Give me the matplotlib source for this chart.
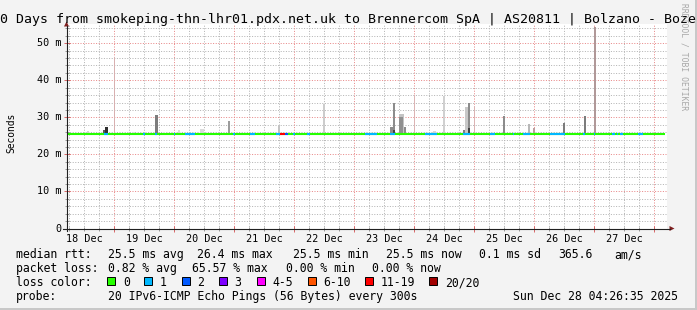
import matplotlib
matplotlib.use("Agg")
import matplotlib.pyplot as plt
from matplotlib.patches import Rectangle, Polygon
from matplotlib.lines import Line2D
from matplotlib.transforms import blended_transform_factory

# ---------------- data ----------------
title_text = "0 Days from smokeping-thn-lhr01.pdx.net.uk to Brennercom SpA | AS20811 | Bolzano - Boze"
watermark = "RRDTOOL / TOBI OETIKER"
y_label = "Seconds"

# time axis in hours since 18 Dec 00:00
view_start_h = 4.88
view_hours = 240
data_end_h = 244.3
day_labels = ["18 Dec", "19 Dec", "20 Dec", "21 Dec", "22 Dec",
              "23 Dec", "24 Dec", "25 Dec", "26 Dec", "27 Dec"]
day_label_h = [12, 36, 60, 84, 108, 132, 156, 180, 204, 228]
y_tick_ms = [0, 10, 20, 30, 40, 50]
y_tick_labels = ["0", "10 m", "20 m", "30 m", "40 m", "50 m"]
y_max_ms = 55.2

median_ms = 25.5

# smoke columns (spread of the 20 pings)
smoke_start_h = [13.1, 19.5, 20.3, 23.7, 31.5, 40.3, 43.5, 49.5, 58.3, 69.5,
                 81.1, 89.5, 107.5, 134.3, 135.5, 135.5, 137.9, 137.9, 139.9, 143.7,
                 151.5, 155.5, 163.5, 164.3, 165.5, 165.5, 167.7, 179.5, 189.5, 191.5,
                 203.5, 211.9, 215.7]
smoke_width_h = [0.8, 0.8, 1.2, 0.6, 0.8, 1.2, 0.8, 0.8, 1.6, 0.8,
                 0.8, 0.8, 0.6, 1.2, 0.8, 0.8, 2.0, 1.4, 0.8, 0.6,
                 1.2, 0.6, 0.8, 1.2, 0.8, 0.8, 0.6, 0.8, 0.8, 0.8,
                 0.8, 0.8, 0.8]
smoke_lo_ms = [25.5] * 33
smoke_hi_ms = [26.3, 26.6, 27.5, 46.2, 26.0, 30.6, 26.0, 26.5, 26.8, 28.9,
               26.0, 28.0, 33.5, 27.5, 33.8, 26.5, 31.0, 30.2, 27.5, 36.0,
               26.3, 35.7, 26.5, 32.7, 34.0, 27.0, 33.0, 30.5, 28.1, 27.0,
               28.6, 30.5, 54.3]
smoke_color = ["#d4d4d4", "#585858", "#303030", "#d8b0b0", "#e0e0e0", "#7c7c7c", "#e4e4e4",
               "#dcdcdc", "#dadada", "#9c9c9c", "#e4e4e4", "#c4c4c4", "#cccccc", "#8c8c8c",
               "#8c8c8c", "#404040", "#c4c4c4", "#909090", "#8c8c8c", "#dcb4b4", "#d8d8d8",
               "#d0d0d0", "#808080", "#c8c8c8", "#8c8c8c", "#404040", "#dcb4b4", "#8c8c8c",
               "#b8b8b8", "#bca0a0", "#7c7c7c", "#7c7c7c", "#b09898"]

# loss-coloured pieces of the median line
loss_start_h = [19.9, 35.5, 40.3, 47.9, 52.3, 71.5, 78.3, 88.7, 90.3, 92.3,
                95.5, 101.1, 124.3, 134.3, 148.3, 163.5, 174.3, 183.5, 187.5, 198.3,
                211.5, 215.9, 223.1, 225.1, 226.3, 233.5]
loss_end_h = [21.5, 36.3, 41.1, 48.3, 56.3, 72.3, 80.3, 90.3, 92.3, 93.5,
              96.3, 102.3, 129.1, 136.3, 153.1, 166.3, 176.3, 183.9, 190.3, 204.3,
              212.3, 216.3, 224.3, 225.5, 227.5, 235.5]
loss_class = [1, 1, 1, 1, 1, 1, 1, 1, 6, 2,
              1, 1, 1, 1, 1, 1, 1, 1, 1, 1,
              1, 1, 1, 1, 1, 1]

loss_labels = ["0", "1", "2", "3", "4-5", "6-10", "11-19", "20/20"]
loss_colors = ["#26ff00", "#00b8ff", "#0059ff", "#7e00ff",
               "#ff00ff", "#ff5500", "#ff0000", "#a10000"]

rtt_avg, rtt_max, rtt_min, rtt_now, rtt_sd, rtt_am = 25.5, 26.4, 25.5, 25.5, 0.1, 365.6
loss_avg, loss_max, loss_min, loss_now = 0.82, 65.57, 0.00, 0.00
probe_text = "20 IPv6-ICMP Echo Pings (56 Bytes) every 300s"
timestamp = "Sun Dec 28 04:26:35 2025"

# ---------------- layout ----------------
W, H = 697, 310
MONO = "DejaVu Sans Mono"
fig = plt.figure(figsize=(W / 100, H / 100), dpi=100)
fig.patch.set_facecolor("#f3f3f3")


def fx(px):
    return px / W


def fy(py):
    return 1 - py / H


# 3D frame
fig.patches.append(Rectangle((fx(W - 2), 0), fx(2), 1, transform=fig.transFigure,
                             facecolor="#c8c8c8", edgecolor="none"))
fig.patches.append(Rectangle((0, 0), 1, 2 / H, transform=fig.transFigure,
                             facecolor="#c8c8c8", edgecolor="none"))

ax_left, ax_right, ax_top, ax_bottom = 66.5, 666.5, 24.0, 228.5
ax = fig.add_axes([fx(ax_left), fy(ax_bottom), (ax_right - ax_left) / W, (ax_bottom - ax_top) / H])
ax.set_facecolor("white")
ax.set_xlim(view_start_h, view_start_h + view_hours)
ax.set_ylim(0, y_max_ms)
for s in ax.spines.values():
    s.set_visible(False)

# grid (dotted)
major_v = [h for h in range(24, 241, 24)]
minor_v = [h for h in range(6, 245, 6) if h % 24 != 0 and view_start_h < h < view_start_h + view_hours]
major_h = [10, 20, 30, 40, 50]
minor_h = [v for v in range(2, 56, 2) if v % 10 != 0]
dots = (0, (1, 1.6))
x_end = view_start_h + view_hours
for coll in (
    ax.vlines(minor_v, 0, y_max_ms, colors="#b4b4b4", linestyles=dots, lw=0.72, zorder=1),
    ax.hlines(minor_h, view_start_h, x_end, colors="#b4b4b4", linestyles=dots, lw=0.72, zorder=1),
    ax.vlines(major_v, 0, y_max_ms, colors="#e88888", linestyles=dots, lw=0.72, zorder=1.1),
    ax.hlines(major_h, view_start_h, x_end, colors="#e88888", linestyles=dots, lw=0.72, zorder=1.1),
):
    coll.set_snap(True)

# ticks
ax.set_xticks(major_v)
ax.set_xticks(minor_v, minor=True)
ax.set_yticks(y_tick_ms)
ax.set_yticks(minor_h, minor=True)
ax.tick_params(axis="both", which="both", labelbottom=False, labelleft=False,
               direction="inout", width=0.72)
ax.tick_params(axis="both", which="major", length=4.5, color="#d86a6a")
ax.tick_params(axis="both", which="minor", length=2.5, color="#9a9a9a")

# smoke
for s, w, lo, hi, c in zip(smoke_start_h, smoke_width_h, smoke_lo_ms, smoke_hi_ms, smoke_color):
    ax.bar(s, hi - lo, width=w, bottom=lo, align="edge", color=c, linewidth=0,
           zorder=2, antialiased=False)

# median line with loss colours
ax.hlines(median_ms, view_start_h, data_end_h, colors=loss_colors[0], lw=1.5, zorder=3)
ax.hlines([median_ms] * len(loss_start_h), loss_start_h, loss_end_h,
          colors=[loss_colors[k] for k in loss_class], lw=1.5, zorder=3.1)

# axes lines & arrows
axis_col = "#202020"
arrow_col = "#7f1f1f"
fig.add_artist(Line2D([fx(66.5), fx(66.5)], [fy(231), fy(26)], color=axis_col, lw=0.8))
fig.add_artist(Line2D([fx(63), fx(670)], [fy(228.5), fy(228.5)], color=axis_col, lw=0.8))
fig.add_artist(Polygon([(fx(64), fy(26.5)), (fx(69), fy(26.5)), (fx(66.5), fy(21.5))],
                       closed=True, transform=fig.transFigure, facecolor=arrow_col, edgecolor="none"))
fig.add_artist(Polygon([(fx(669.5), fy(226)), (fx(669.5), fy(231)), (fx(674.5), fy(228.5))],
                       closed=True, transform=fig.transFigure, facecolor=arrow_col, edgecolor="none"))

# tick labels
xt = blended_transform_factory(ax.transData, fig.transFigure)
for lab, h in zip(day_labels, day_label_h):
    ax.text(h, fy(241.5), lab, transform=xt, ha="center", va="baseline",
            family=MONO, fontsize=7.3, color="black")
yt = blended_transform_factory(fig.transFigure, ax.transData)
for lab, v in zip(y_tick_labels, y_tick_ms):
    ax.text(fx(61), v, lab, transform=yt, ha="right", va="center",
            family=MONO, fontsize=7.3, color="black")

fig.text(fx(11), fy(132.5), y_label, rotation=90, ha="center", va="center",
         family=MONO, fontsize=6.9, color="black")

# title and watermark
fig.text(fx(0.5), fy(23), title_text, ha="left", va="baseline", family=MONO,
         fontsize=9.5, color="black")
fig.text(fx(684), fy(3), watermark, rotation=270, ha="center", va="top",
         family=MONO, fontsize=5.8, color="#a8a8a8")

# legend
LS = 8.3
line1 = [("median rtt:", 16), (f"{rtt_avg:.1f} ms avg", 107.6), (f"{rtt_max:.1f} ms max", 197),
         (f"{rtt_min:.1f} ms min", 292.9), (f"{rtt_now:.1f} ms now", 386.2),
         (f"{rtt_sd:.1f} ms sd", 479), (f"{rtt_am:.1f}", 557.8), ("am/s", 613.8)]
line2 = [("packet loss:", 16), (f"{loss_avg:.2f} % avg", 107.6), (f"{loss_max:.2f} % max", 192),
         (f"{loss_min:.2f} % min", 286.2), (f"{loss_now:.2f} % now", 371.6)]
line4 = [("probe:", 16), (probe_text, 107.6), (timestamp, 513.3)]
for items, base in ((line1, 258.3), (line2, 272.3), (line4, 300.3)):
    for s, x in items:
        fig.text(fx(x), fy(base), s, ha="left", va="baseline", family=MONO, fontsize=LS, color="black")

fig.text(fx(16), fy(286.3), "loss color:", ha="left", va="baseline", family=MONO, fontsize=LS)
box_x = [107.3, 144.3, 181.7, 219, 256.7, 307.7, 365, 429.3]
for lab, col, bx in zip(loss_labels, loss_colors, box_x):
    fig.patches.append(Rectangle((fx(bx), fy(284.5)), 8 / W, 8 / H, transform=fig.transFigure,
                                 facecolor=col, edgecolor="black", lw=0.7))
    fig.text(fx(bx + 15.5), fy(286.3), lab, ha="left", va="baseline", family=MONO, fontsize=LS)

fig.savefig("out.png", dpi=100, facecolor=fig.get_facecolor())
